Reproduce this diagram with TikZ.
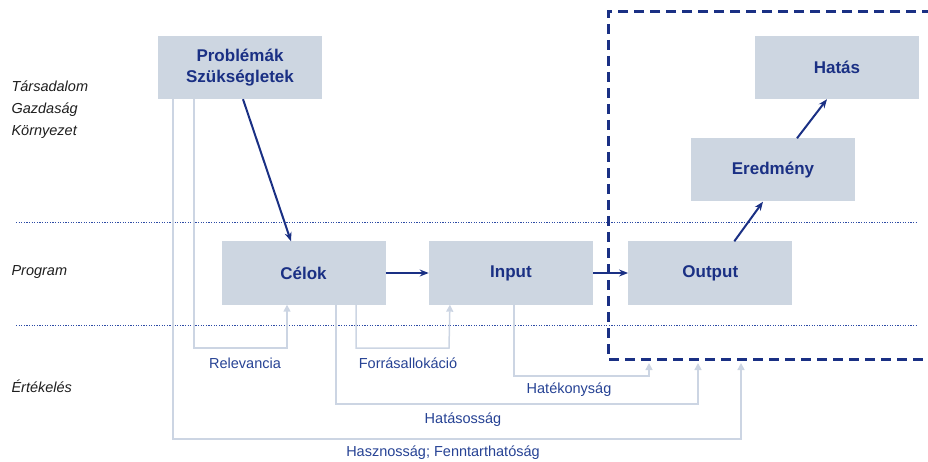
\documentclass[tikz,border=0pt]{standalone}
\usepackage{fontspec}
\setmainfont{Liberation Sans}
\usetikzlibrary{arrows.meta, positioning}

\definecolor{navy}{RGB}{26,48,132}
\definecolor{labelblue}{RGB}{38,66,148}
\definecolor{levelblue}{RGB}{45,75,165}
\definecolor{boxfill}{RGB}{205,214,225}
\definecolor{evalgrey}{RGB}{204,213,227}
\definecolor{sidegrey}{RGB}{30,30,30}

\begin{document}
\begin{tikzpicture}[x = 1pt, y = -1pt, % pixel-like units, y downwards
                node distance = 43pt, % gap between program boxes
                > = {Stealth[length=9pt, width=7pt]} % main arrow tips
            ]

            \tikzset{stage/.style = {fill = boxfill, text = navy, inner sep = 0pt,
                    minimum width = 164pt, minimum height = 63pt, align = center,
                    font = \fontsize{17}{21}\selectfont\bfseries},
                flow/.style = {->, draw = navy, line width = 2pt},
                evalline/.style = {-{Triangle[length=7pt, width=7pt]}, draw = evalgrey,
                    line width = 1.5pt},
                evallabel/.style = {text = labelblue, font = \fontsize{14.5}{17}\selectfont},
                side/.style = {anchor = west, align = left, text = sidegrey,
                    font = \fontsize{14.5}{22}\selectfont\itshape},
                level/.style = {draw = levelblue, line width = 0.8pt,
                    dash pattern = on 1.2pt off 1.4pt}}

            \useasboundingbox (0,0) rectangle (928,462);

            % layers
            \draw[level] (16,222) -- (918,222);
            \draw[level] (16,325) -- (918,325);

            \node[side] (tgk) at (8,110) {Társadalom\\Gazdaság\\Környezet};
            \node[side] (prog) at (8,272) {Program};
            \node[side] (ert) at (8,386) {Értékelés};

            % boxes
            \node[stage] (prob) at (240,67.5) {Problémák\\Szükségletek};
            \node[stage] (celok) at (303.5,273) {Célok};
            \node[stage] (input) [right = of celok] {Input};
            \node[stage] (output) [right = 35pt of input] {Output};
            \node[stage] (eredmeny) at (773,170) {Eredmény};
            \node[stage] (hatas) at (837,67.5) {Hatás};

            % dashed frame round the results
            \draw[navy, line width = 3pt, dash pattern = on 10pt off 6pt]
            (932,12) -| (608,359) -- (932,359);

            \draw[flow] ([xshift=3pt]prob.south) -- ([xshift=-12.5pt]celok.north);
            \draw[flow] (celok) -- (input);
            \draw[flow] (input) -- (output);
            \draw[flow] ([xshift=24pt]output.north) -- ([xshift=-10pt]eredmeny.south);
            \draw[flow] ([xshift=24pt]eredmeny.north) -- ([xshift=-10pt]hatas.south);

            % evaluation criteria
            \coordinate (hatekend) at (649,363);
            \coordinate (hatasend) at (698,363);
            \coordinate (hasznend) at (741,363);

            \draw[evalline] ([xshift=-46pt]prob.south) |- (287,348)
            -- ([xshift=-16.5pt]celok.south);
            \draw[evalline] ([xshift=52.5pt]celok.south) |- (449,348)
            -- ([xshift=-61pt]input.south);
            \draw[evalline] ([xshift=3pt]input.south) |- (649,376) -- (hatekend);
            \draw[evalline] ([xshift=32.5pt]celok.south) |- (698,404) -- (hatasend);
            \draw[evalline] ([xshift=-67pt]prob.south) |- (741,439) -- (hasznend);

            \node[evallabel] (relev) at (245,363) {Relevancia};
            \node[evallabel] (forras) at (408,363) {Forrásallokáció};
            \node[evallabel] (hatek) at (569,390) {Hatékonyság};
            \node[evallabel] (hatasos) at (463,420) {Hatásosság};
            \node[evallabel] (haszn) at (443,453) {Hasznosság; Fenntarthatóság};
        \end{tikzpicture}
\end{document}
